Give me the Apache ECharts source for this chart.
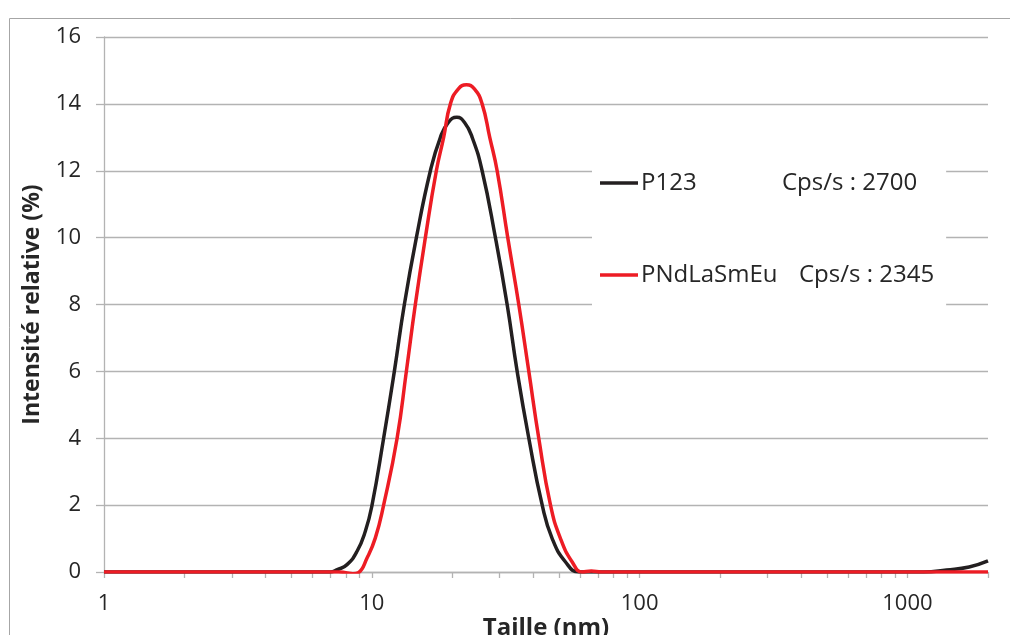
<!DOCTYPE html>
<html>
<head>
<meta charset="utf-8">
<script src="https://cdn.jsdelivr.net/npm/echarts@6/dist/echarts.min.js"></script>
<style>
html,body{margin:0;padding:0;background:#fff;}
#chart{width:1010px;height:635px;}
</style>
</head>
<body>
<div id="chart"></div>
<script>
// ---- data ----
var seriesNames = ['P123', 'PNdLaSmEu'];
var cpsLabels = ['Cps/s : 2700', 'Cps/s : 2345'];

var p123Sizes  = [1, 4, 7.0, 7.43, 8.08, 8.81, 9.46, 10.02, 11.07, 12.14, 13.23, 14.67, 16.55, 18.04, 19.32, 20.78, 22.17, 23.70, 25.82, 28.95, 32.02, 34.9, 38.58, 43.29, 47.17, 52.9, 59.3, 65, 300, 1150, 1400, 1700, 2000];
var p123Values = [0, 0, 0, 0.07, 0.22, 0.62, 1.22, 2.0, 4.0, 6.0, 8.0, 10.0, 12.0, 13.0, 13.45, 13.6, 13.45, 13.0, 12.0, 10.0, 8.0, 6.0, 4.0, 2.0, 1.0, 0.3, 0, 0, 0, 0, 0.06, 0.15, 0.33];

var pndSizes  = [1, 4, 7.5, 8.0, 8.5, 8.9, 9.6, 10.31, 11.07, 12.43, 13.46, 14.54, 15.85, 17.42, 18.55, 19.66, 21.06, 22.56, 24.16, 25.82, 27.57, 29.38, 32.19, 35.39, 38.58, 42.03, 46.49, 50.66, 56.02, 61.07, 66, 72, 300, 2000];
var pndValues = [0, 0, 0, -0.02, -0.05, -0.02, 0.42, 1.02, 2.0, 4.0, 6.0, 8.0, 10.0, 12.0, 13.0, 14.0, 14.45, 14.57, 14.45, 14.0, 13.0, 12.0, 10.0, 8.0, 6.0, 4.0, 2.0, 1.0, 0.3, 0, 0.03, 0, 0, 0];

var xLabelValues = [1, 10, 100, 1000];
var xTickValues = [1,2,3,4,5,6,7,8,9,10,20,30,40,50,60,70,80,90,100,200,300,400,500,600,700,800,900,1000,2000];

function pairs(xs, ys){ return xs.map(function(x,i){ return [x, ys[i]]; }); }

var textColor = '#262626';
var gridColor = '#b3b3b3';
var fontFam = '"Open Sans", "Liberation Sans", sans-serif';
var colors = ['#231f20', '#ed1c24'];
var lineIcon = 'path://M0,0 L0.01,0 M0,24 L0.01,24 M0,10.3 L38,10.3 L38,13.7 L0,13.7 Z';

var chart = echarts.init(document.getElementById('chart'), null, {renderer: 'canvas'});
chart.setOption({
  animation: false,
  backgroundColor: '#fff',
  color: colors,
  textStyle: {fontFamily: fontFam, color: textColor},
  graphic: [{
    type: 'rect', z: -10, silent: true,
    shape: {x: 9.5, y: 18.5, width: 1100, height: 700},
    style: {fill: 'none', stroke: '#a6a6a6', lineWidth: 1}
  }],
  grid: {left: 104, right: 22, top: 37, bottom: 63, containLabel: false, outerBoundsMode: 'none'},
  legend: {
    orient: 'vertical',
    left: 592,
    top: 141,
    padding: [30, 12, 34, 8],
    backgroundColor: '#ffffff',
    icon: lineIcon,
    itemWidth: 38,
    itemHeight: 24,
    itemGap: 68,
    data: seriesNames,
    formatter: function(name){
      var i = seriesNames.indexOf(name);
      return '{n' + i + '|' + name + '}{c|' + cpsLabels[i] + '}';
    },
    textStyle: {
      fontFamily: fontFam, fontSize: 24, color: textColor, padding: [0,0,0,-2],
      rich: {
        n0: {width: 141, fontSize: 24, fontFamily: fontFam, color: textColor},
        n1: {width: 158, fontSize: 24, fontFamily: fontFam, color: textColor},
        c: {fontSize: 24, fontFamily: fontFam, color: textColor}
      }
    }
  },
  xAxis: {
    type: 'log',
    logBase: 10,
    min: 1,
    max: 2000,
    name: 'Taille (nm)',
    nameLocation: 'middle',
    nameGap: 44,
    nameMoveOverlap: false,
    nameTextStyle: {fontFamily: fontFam, fontSize: 24, fontWeight: 'bold', color: textColor},
    axisLine: {show: true, lineStyle: {color: gridColor, width: 1.3}},
    axisTick: {show: true, inside: false, length: 6, customValues: xTickValues, lineStyle: {color: gridColor, width: 1.3}},
    axisLabel: {show: true, customValues: xLabelValues, margin: 21, fontSize: 22, fontFamily: fontFam, color: textColor,
      formatter: function(v){ return String(Math.round(v)); }},
    splitLine: {show: false},
    minorTick: {show: false}
  },
  yAxis: {
    type: 'value',
    min: 0,
    max: 16,
    interval: 2,
    name: 'Intensité relative (%)',
    nameLocation: 'middle',
    nameGap: 60,
    nameTextStyle: {fontFamily: fontFam, fontSize: 23, fontWeight: 'bold', color: textColor},
    axisLine: {show: true, lineStyle: {color: gridColor, width: 1.3}},
    axisTick: {show: true, inside: false, length: 8, lineStyle: {color: gridColor, width: 1.3}},
    axisLabel: {margin: 23, fontSize: 22, fontFamily: fontFam, color: textColor},
    splitLine: {show: true, lineStyle: {color: gridColor, width: 1.3}}
  },
  series: [
    {
      name: seriesNames[0], type: 'line', data: pairs(p123Sizes, p123Values),
      symbol: 'none', smooth: 0.5, clip: true, z: 3,
      lineStyle: {color: colors[0], width: 3.5}
    },
    {
      name: seriesNames[1], type: 'line', data: pairs(pndSizes, pndValues),
      symbol: 'none', smooth: 0.5, clip: true, z: 4,
      lineStyle: {color: colors[1], width: 3.5}
    }
  ]
});
</script>
</body>
</html>
